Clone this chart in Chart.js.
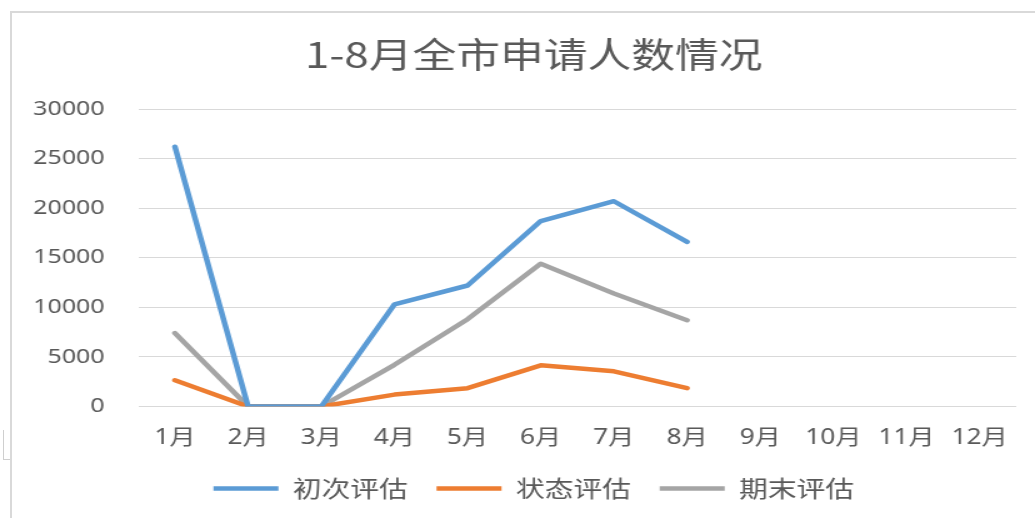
<!DOCTYPE html>
<html>
<head>
<meta charset="utf-8">
<script src="https://cdn.jsdelivr.net/npm/chart.js@4"></script>
<style>
  html, body { margin: 0; padding: 0; background: #fff; }
  body { width: 1035px; height: 518px; position: relative; overflow: hidden; }
  #frame { position: absolute; left: 10px; top: 11px; width: 1100px; height: 600px;
           border-left: 2px solid #d9d9d9; border-top: 2px solid #d9d9d9; }
  #mark { position: absolute; left: 3px; top: 430px; width: 6px; height: 29px;
          border-left: 1px solid #cfcfcf; border-bottom: 1px solid #cfcfcf; }
  #wrap { position: absolute; left: 0; top: 0; width: 828px; height: 518px;
          transform: scaleX(1.25); transform-origin: 0 0; }
</style>
</head>
<body>
<div id="frame"></div>
<div id="mark"></div>
<div id="wrap"><canvas id="c"></canvas></div>
<script>
const months = ['1月','2月','3月','4月','5月','6月','7月','8月','9月','10月','11月','12月'];
const initialEval = [26200, 0, 0, 10300, 12200, 18700, 20700, 16600, null, null, null, null];
const statusEval  = [2650, 0, 0, 1200, 1850, 4150, 3550, 1850, null, null, null, null];
const finalEval   = [7400, 0, 0, 4200, 8800, 14400, 11400, 8700, null, null, null, null];
const seriesNames = ['初次评估', '状态评估', '期末评估'];
const yTicks = [0, 5000, 10000, 15000, 20000, 25000, 30000];

const textColor = '#595959';
const cjk = '"Noto Sans CJK SC", "Noto Sans", sans-serif';
const latin = '"Noto Sans", "Noto Sans CJK SC", sans-serif';

function ds(label, data, color) {
  return {
    label, data,
    borderColor: color, backgroundColor: color,
    borderWidth: 4.5, borderCapStyle: 'round', borderJoinStyle: 'round',
    pointRadius: 0, pointHoverRadius: 0, tension: 0, spanGaps: false
  };
}

// shift the title and legend boxes so they centre on the framed chart, not the canvas
const centreShift = {
  id: 'centreShift',
  afterLayout(chart) {
    const s = 41;
    [chart.titleBlock, chart.legend].forEach(b => { if (b) { b.left += s; } });
  }
};

new Chart(document.getElementById('c'), {
  type: 'line',
  data: {
    labels: months,
    datasets: [
      ds(seriesNames[0], initialEval, '#5b9bd5'),
      ds(seriesNames[1], statusEval, '#ed7d31'),
      ds(seriesNames[2], finalEval, '#a5a5a5')
    ]
  },
  plugins: [centreShift],
  options: {
    responsive: true,
    maintainAspectRatio: false,
    animation: false,
    layout: { padding: { left: 0, right: 15, top: 0, bottom: 8 } },
    plugins: {
      title: {
        display: true,
        text: '1-8月全市申请人数情况',
        color: textColor,
        font: { family: cjk, size: 35, weight: 'normal' },
        padding: { top: 34, bottom: 33 }
      },
      legend: {
        position: 'bottom',
        labels: {
          color: textColor,
          font: { family: cjk, size: 23 },
          usePointStyle: true,
          pointStyle: 'line',
          pointStyleWidth: 52,
          padding: 23
        }
      },
      tooltip: { enabled: false }
    },
    scales: {
      x: {
        offset: true,
        grid: { display: false, drawTicks: false, offset: true },
        border: { display: false },
        ticks: { color: textColor, font: { family: latin, size: 21 }, padding: 19, maxRotation: 0, autoSkip: false },
        afterFit: s => { s.height = 47.5; }
      },
      y: {
        min: 0, max: 30000,
        afterBuildTicks: s => { s.ticks = yTicks.map(v => ({ value: v })); },
        grid: { color: '#d9d9d9', lineWidth: 1, drawTicks: false },
        border: { display: false },
        ticks: { color: textColor, font: { family: latin, size: 20 }, padding: 27,
                 callback: v => String(v) },
        afterFit: s => { s.width = 110.7; }
      }
    }
  }
});
</script>
</body>
</html>
